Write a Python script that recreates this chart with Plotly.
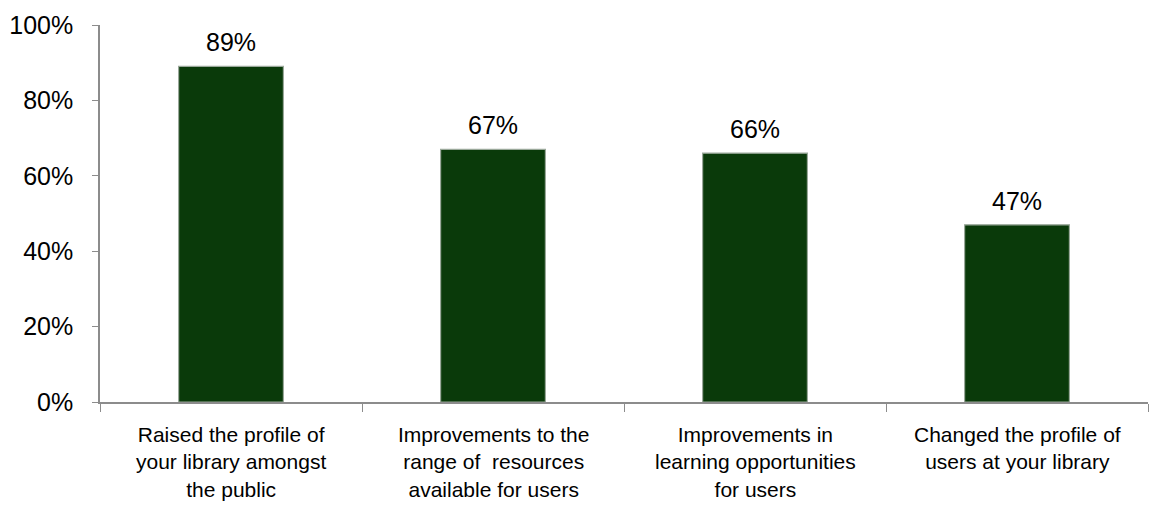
import plotly.graph_objects as go

categories = [
    "Raised the profile of your library amongst the public",
    "Improvements to the range of resources available for users",
    "Improvements in learning opportunities for users",
    "Changed the profile of users at your library",
]
category_lines = [
    ["Raised the profile of", "your library amongst", "the public"],
    ["Improvements to the", "range of  resources", "available for users"],
    ["Improvements in", "learning opportunities", "for users"],
    ["Changed the profile of", "users at your library"],
]
values = [0.89, 0.67, 0.66, 0.47]
value_labels = ["89%", "67%", "66%", "47%"]

FONT = "Liberation Sans, Arial, sans-serif"
SIZE = 25
CAT_SIZE = 21

fig = go.Figure()
fig.add_trace(go.Bar(
    x=categories,
    y=values,
    width=0.4,
    marker=dict(color="#0a3a0a", line=dict(color="#9aa89a", width=1.2)),
    hoverinfo="skip",
))

# value labels above each bar
for cat, v, lab in zip(categories, values, value_labels):
    fig.add_annotation(
        x=cat, y=v, text=lab, showarrow=False,
        yanchor="middle", yshift=24,
        font=dict(family=FONT, size=SIZE, color="#000000"),
    )

# wrapped category labels under the axis
for cat, lines in zip(categories, category_lines):
    fig.add_annotation(
        x=cat, y=0, text="<br>".join(lines), showarrow=False,
        yanchor="top", yshift=-19, align="center",
        font=dict(family=FONT, size=CAT_SIZE, color="#000000"),
    )

fig.update_layout(
    width=1149, height=508,
    margin=dict(l=100, r=1, t=25, b=106),
    paper_bgcolor="white", plot_bgcolor="white",
    showlegend=False,
    font=dict(family=FONT, size=SIZE, color="#000000"),
    xaxis=dict(
        type="category",
        showline=True, linecolor="#8c8c8c", linewidth=1.5,
        ticks="outside", tickson="boundaries", ticklen=8, tickcolor="#8c8c8c",
        showgrid=False, zeroline=False,
        showticklabels=False,
    ),
    yaxis=dict(
        range=[0, 1], dtick=0.2, tickformat=".0%",
        showline=True, linecolor="#8c8c8c", linewidth=1.5,
        ticks="outside", ticklen=6, tickcolor="#8c8c8c",
        showgrid=False, zeroline=False,
        ticklabelstandoff=14,
        tickfont=dict(family=FONT, size=SIZE, color="#000000"),
    ),
)

fig.write_html("out.html")
